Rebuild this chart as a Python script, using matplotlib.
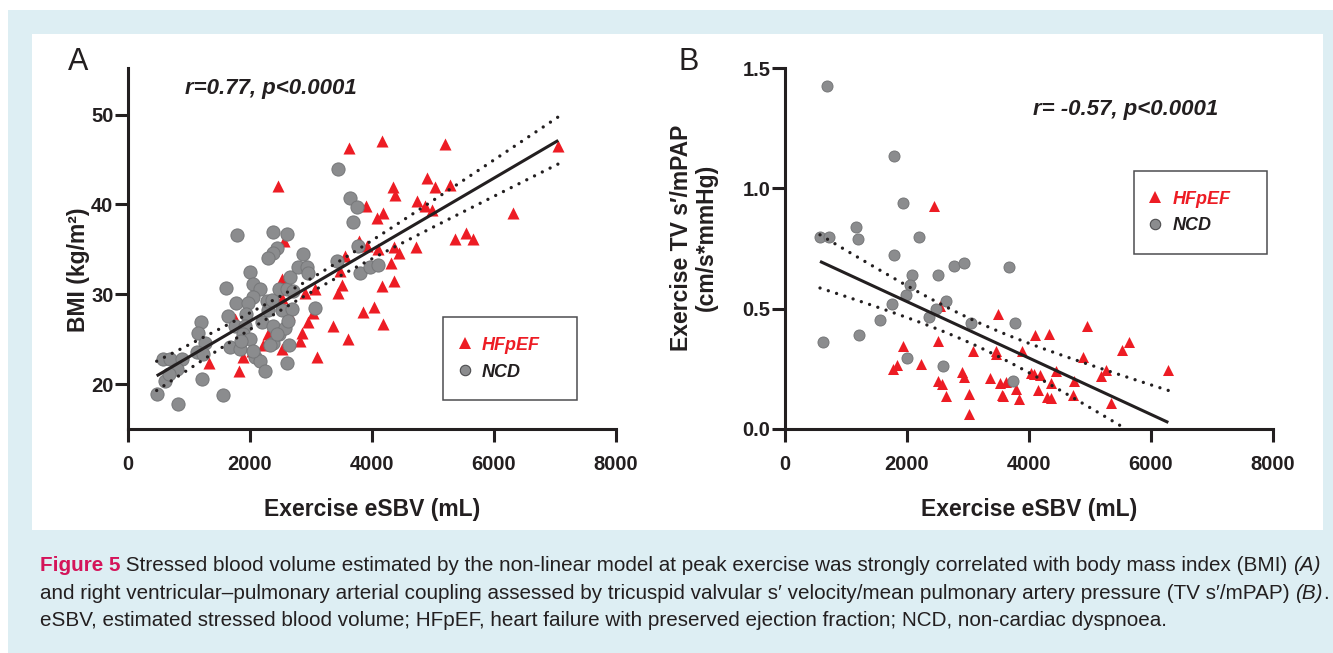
import matplotlib
matplotlib.use('Agg')
import matplotlib.pyplot as plt
import numpy as np
from matplotlib.patches import Rectangle
from matplotlib.lines import Line2D
from matplotlib.ticker import FormatStrFormatter

plt.rcParams['font.family'] = ['Liberation Sans', 'DejaVu Sans']

# ---- data, panel A: BMI vs exercise eSBV ----
hf_a_x = [1333, 1825, 1890, 2027, 1754, 2218, 2519, 2300, 3093, 2847, 2945, 3038, 2901, 3065,
          2519, 2519, 2644, 2453, 2563, 3366, 3612, 3475, 3448, 3502, 3557, 3857, 4032, 4175,
          4158, 4366, 4306, 3912, 4103, 4366, 4448, 4721, 3622, 4158, 3901, 4076, 4185, 4349,
          4377, 4743, 4907, 5033, 4869, 4978, 3792, 5196, 7053, 5279, 6306, 5361, 5541, 5661, 2820]
hf_a_y = [22.4, 21.5, 23.0, 23.7, 27.2, 24.4, 23.9, 25.6, 23.0, 25.7, 26.9, 27.9, 30.2, 30.6,
          31.7, 29.6, 27.8, 42.1, 35.9, 26.5, 25.0, 32.6, 30.2, 31.0, 34.3, 28.0, 28.6, 26.7,
          30.9, 31.5, 33.5, 35.4, 35.0, 35.3, 34.6, 35.3, 46.3, 47.1, 39.8, 38.5, 39.1, 41.9,
          41.1, 40.4, 43.0, 41.9, 39.8, 39.4, 35.9, 46.7, 46.5, 42.2, 39.1, 36.2, 36.8, 36.2, 24.8]
ncd_a_x = [470, 825, 606, 568, 688, 880, 798, 677, 1207, 1552, 1191, 1153, 1262, 1136, 1235,
           1606, 1770, 1644, 1781, 2000, 2044, 2164, 2044, 1972, 1934, 1754, 1918, 1880, 2000,
           1672, 1836, 2082, 2164, 2246, 2191, 2300, 2273, 2355, 2382, 2382, 2480, 2573, 2519,
           2480, 2601, 2710, 2683, 2628, 2656, 2792, 2929, 2956, 2874, 2601, 2372, 2437, 2382,
           2300, 3065, 2644, 2601, 3420, 3803, 3775, 3967, 4103, 3448, 3639, 3748, 3683, 2044,
           2328, 2437, 1850]
ncd_a_y = [18.9, 17.8, 20.3, 22.8, 22.8, 22.8, 21.7, 21.1, 20.6, 18.8, 26.9, 25.7, 24.6, 23.6, 23.3,
           30.7, 29.0, 27.6, 36.6, 32.5, 31.2, 30.6, 29.7, 29.0, 27.8, 26.5, 26.5, 25.6, 25.0,
           24.1, 23.9, 23.0, 22.6, 21.5, 26.9, 28.3, 29.3, 29.4, 26.5, 24.6, 25.6, 26.3, 28.3,
           30.6, 30.6, 30.4, 28.4, 27.0, 31.9, 33.0, 33.0, 32.4, 34.5, 36.7, 36.9, 35.1, 34.6,
           34.0, 28.5, 24.3, 22.3, 33.7, 32.4, 35.4, 33.0, 33.3, 44.0, 40.7, 39.7, 38.1, 23.7,
           24.3, 25.6, 24.8]

# ---- data, panel B: TV s'/mPAP vs exercise eSBV ----
hf_b_x = [2443, 2541, 3486, 2514, 1929, 3087, 3459, 3459, 3890, 4098, 4333, 2230, 1765, 1831,
          2896, 2934, 2514, 2568, 3361, 3525, 3623, 2634, 3021, 3552, 3787, 3841, 3021, 4027,
          4082, 4180, 4443, 4355, 4142, 4290, 4360, 4956, 5645, 5520, 4890, 5262, 5180, 6284,
          4737, 4716, 3579, 5344]
hf_b_y = [0.926, 0.510, 0.478, 0.367, 0.346, 0.325, 0.325, 0.310, 0.325, 0.390, 0.395, 0.270,
          0.249, 0.265, 0.235, 0.217, 0.200, 0.189, 0.211, 0.193, 0.196, 0.137, 0.147, 0.140,
          0.168, 0.124, 0.064, 0.232, 0.228, 0.225, 0.239, 0.193, 0.163, 0.131, 0.128, 0.426,
          0.360, 0.328, 0.300, 0.245, 0.221, 0.245, 0.200, 0.142, 0.137, 0.110]
ncd_b_x = [693, 1792, 1940, 1164, 1202, 574, 727, 2202, 1787, 2087, 2049, 1978, 2514, 2770,
           2940, 3667, 1749, 1557, 2639, 2475, 2366, 3049, 3770, 617, 1213, 1995, 2595, 3743]
ncd_b_y = [1.425, 1.133, 0.940, 0.839, 0.788, 0.797, 0.797, 0.797, 0.724, 0.640, 0.600, 0.557,
           0.640, 0.676, 0.689, 0.674, 0.520, 0.454, 0.533, 0.499, 0.467, 0.440, 0.440, 0.360,
           0.389, 0.297, 0.263, 0.200]

x_ticks = [0, 2000, 4000, 6000, 8000]
a_yticks = [20, 30, 40, 50]
b_yticks = [0.0, 0.5, 1.0, 1.5]
group_names = ['HFpEF', 'NCD']
stat_a = 'r=0.77, p<0.0001'
stat_b = 'r= -0.57, p<0.0001'

caption = [
    [("Figure 5", 'fig'), (" Stressed blood volume estimated by the non-linear model at peak exercise was "
                           "strongly correlated with body mass index (BMI) ", 'n'), ("(A)", 'i')],
    [("and right ventricular\u2013pulmonary arterial coupling assessed by tricuspid valvular s\u2032 "
      "velocity/mean pulmonary artery pressure (TV s\u2032/mPAP) ", 'n'), ("(B)", 'i'), (".", 'n')],
    [("eSBV, estimated stressed blood volume; HFpEF, heart failure with preserved ejection fraction; "
      "NCD, non-cardiac dyspnoea.", 'n')],
]

RED = '#ed1c24'
GREY = '#8b8c8e'
INK = '#231f20'
W, H = 1333, 653


def px_axes(left, top, right, bottom):
    return [left / W, 1 - bottom / H, (right - left) / W, (bottom - top) / H]


def fit_band(x, y):
    x = np.asarray(x, float)
    y = np.asarray(y, float)
    n = len(x)
    b, a = np.polyfit(x, y, 1)
    xs = np.linspace(x.min(), x.max(), 100)
    yhat = a + b * xs
    s = np.sqrt(np.sum((y - (a + b * x)) ** 2) / (n - 2))
    se = s * np.sqrt(1 / n + (xs - x.mean()) ** 2 / np.sum((x - x.mean()) ** 2))
    return xs, yhat, yhat - 1.98 * se, yhat + 1.98 * se


def style_axes(ax):
    for side in ['top', 'right']:
        ax.spines[side].set_visible(False)
    for side in ['left', 'bottom']:
        ax.spines[side].set_linewidth(2.2)
        ax.spines[side].set_color(INK)
    ax.tick_params(direction='out', length=9.5, width=2.2, color=INK, labelsize=14.5, labelcolor=INK)
    ax.tick_params(axis='x', pad=9)
    ax.tick_params(axis='y', pad=1)
    for lbl in ax.get_xticklabels() + ax.get_yticklabels():
        lbl.set_fontweight('bold')
    ax.set_facecolor('white')


fig = plt.figure(figsize=(13.33, 6.53), dpi=100)
fig.add_artist(Rectangle((8 / W, 0), 1 - 8 / W, (H - 10) / H, transform=fig.transFigure,
                         facecolor='#ddeef3', edgecolor='none', zorder=-2))
fig.add_artist(Rectangle((32 / W, 1 - 530 / H), (1323 - 32) / W, (530 - 34) / H, transform=fig.transFigure,
                         facecolor='white', edgecolor='none', zorder=-1))

panels = [
    dict(pos=px_axes(128, 68, 616, 429), hx=hf_a_x, hy=hf_a_y, nx=ncd_a_x, ny=ncd_a_y,
         ylim=(15, 55.2), yticks=a_yticks, ylabel='BMI (kg/m\u00b2)', ylab_xy=(-0.077, 0.44),
         stat=stat_a, stat_xy=(0.293, 0.942), size=(75, 90), letter='A', letter_xy=(68, 62),
         box=(0.6455, 0.0803, 0.2746, 0.2299), leg_xy=(0.672, 0.195)),
    dict(pos=px_axes(785, 68, 1273, 429), hx=hf_b_x, hy=hf_b_y, nx=ncd_b_x, ny=ncd_b_y,
         ylim=(0, 1.5), yticks=b_yticks, ylabel='Exercise TV s\u2032/mPAP\n(cm/s*mmHg)', ylab_xy=(-0.138, 0.53),
         stat=stat_b, stat_xy=(0.699, 0.886), size=(63, 63), letter='B', letter_xy=(678, 62),
         box=(0.7152, 0.4848, 0.2725, 0.2299), leg_xy=(0.7398, 0.5997)),
]

for p in panels:
    ax = fig.add_axes(p['pos'])
    ax.scatter(p['hx'], p['hy'], marker='^', s=p['size'][0], color=RED, linewidths=0, zorder=2)
    ax.scatter(p['nx'], p['ny'], marker='o', s=p['size'][1], facecolor=GREY, edgecolor='#767779',
               linewidths=0.7, zorder=3)
    xs, yh, lo, hi = fit_band(p['hx'] + p['nx'], p['hy'] + p['ny'])
    ax.plot(xs, yh, color=INK, lw=2.2, zorder=4, solid_capstyle='butt')
    for band in (lo, hi):
        ax.plot(xs, band, color=INK, lw=2.4, ls=(0, (0.01, 2.6)), dash_capstyle='round', zorder=4)
    ax.set_xlim(0, 8000)
    ax.set_ylim(*p['ylim'])
    ax.set_xticks(x_ticks)
    ax.set_yticks(p['yticks'])
    if p['letter'] == 'B':
        ax.yaxis.set_major_formatter(FormatStrFormatter('%.1f'))
    style_axes(ax)
    ax.set_xlabel('Exercise eSBV (mL)', fontsize=16.5, fontweight='bold', color=INK)
    ax.xaxis.set_label_coords(0.5, -0.192)
    ax.set_ylabel(p['ylabel'], fontsize=16.5, fontweight='bold', color=INK, linespacing=1.1)
    ax.yaxis.set_label_coords(*p['ylab_xy'])
    ax.text(p['stat_xy'][0], p['stat_xy'][1], p['stat'], transform=ax.transAxes, ha='center', va='center',
            fontsize=16, fontweight='bold', style='italic', color=INK)
    fig.text(p['letter_xy'][0] / W, 1 - p['letter_xy'][1] / H, p['letter'], fontsize=22,
             ha='left', va='center', color=INK)
    bx = p['box']
    ax.add_patch(Rectangle((bx[0], bx[1]), bx[2], bx[3], transform=ax.transAxes, facecolor='white',
                           edgecolor='#4d4d4f', lw=1.1, zorder=5, clip_on=False))
    handles = [Line2D([], [], ls='none', marker='^', markersize=8.5, color=RED, markeredgewidth=0),
               Line2D([], [], ls='none', marker='o', markersize=7.5, markerfacecolor=GREY,
                      markeredgecolor='#4d4d4f', markeredgewidth=0.8)]
    leg = ax.legend(handles, group_names, loc='center left', bbox_to_anchor=p['leg_xy'], frameon=False,
                    borderpad=0, borderaxespad=0, handlelength=1.0, handletextpad=0.45, labelspacing=0.55,
                    prop=dict(size=13, weight='bold', style='italic'))
    leg.set_zorder(6)
    for txt, col in zip(leg.get_texts(), [RED, INK]):
        txt.set_color(col)

# ---- caption, fitted to the reference line width ----
cap_family = ['Liberation Sans Narrow', 'Liberation Sans', 'DejaVu Sans']
renderer = fig.canvas.get_renderer()


def draw_line(runs, x0, y, size, keep=True):
    x = x0
    made = []
    for s, kind in runs:
        kw = dict(fontsize=size, family=cap_family, color=INK, va='baseline', ha='left')
        if kind == 'fig':
            kw.update(color='#d4145a', fontweight='bold')
        elif kind == 'i':
            kw.update(style='italic')
        t = fig.text(x, y, s, **kw)
        x += t.get_window_extent(renderer).width / W
        made.append(t)
    if not keep:
        for t in made:
            t.remove()
    return x - x0


trial = 12
wfrac = draw_line(caption[0], 0, 0, trial, keep=False)
cap_size = trial * (1285 / W) / wfrac
for runs, base in zip(caption, [571, 599, 626]):
    draw_line(runs, 40 / W, 1 - base / H, cap_size)

fig.savefig('out.png', dpi=100)
